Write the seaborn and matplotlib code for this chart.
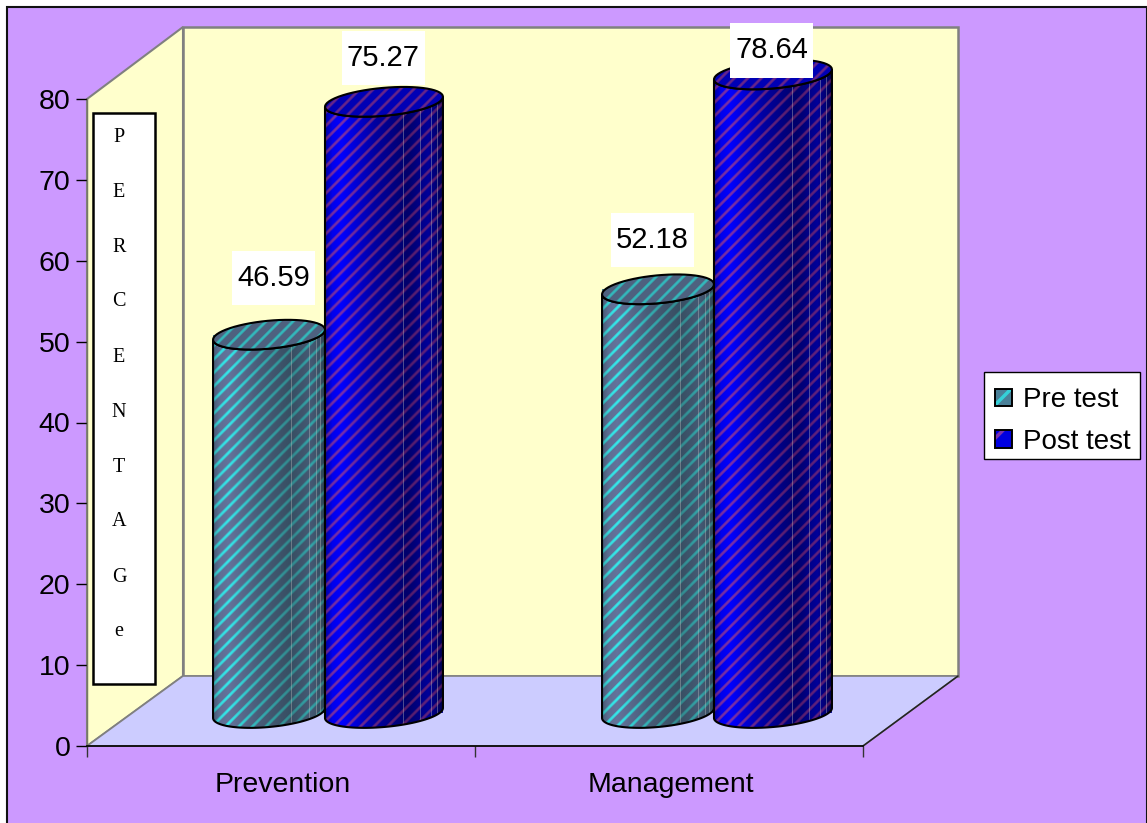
import numpy as np
import pandas as pd
import matplotlib
matplotlib.use("Agg")
import matplotlib.pyplot as plt
import seaborn as sns
from matplotlib.patches import Polygon, Rectangle, Patch
from matplotlib.path import Path
from matplotlib.legend_handler import HandlerTuple

# Chart values
categories = ["Prevention", "Management"]
series_names = ["Pre test", "Post test"]
pre_test = [46.59, 52.18]
post_test = [75.27, 78.64]
y_ticks = [0, 10, 20, 30, 40, 50, 60, 70, 80]
side_letters = ["P", "E", "R", "C", "E", "N", "T", "A", "G", "e"]

W, H = 1147, 823
sns.set_theme(style="white", rc={"text.color": "black", "xtick.color": "black",
                                 "ytick.color": "black", "hatch.linewidth": 2.5})
plt.rcParams["font.family"] = ["Liberation Sans", "DejaVu Sans"]

fig = plt.figure(figsize=(W / 100, H / 100), dpi=100, facecolor="white")


def fig_rect(left, top, right, bottom):
    return [left / W, 1 - bottom / H, (right - left) / W, (bottom - top) / H]


# Backdrop: chart area, walls and floor of the 3D box, in pixel units
bg = fig.add_axes([0, 0, 1, 1], zorder=0)
bg.set_xlim(0, W)
bg.set_ylim(H, 0)
bg.axis("off")
bg.add_patch(Rectangle((7, 7), 1139.5, 840, fc="#CC99FF", ec="#111111", lw=1.5))
bg.add_patch(Polygon([(183, 27), (958, 27), (958, 676), (183, 676)],
                     fc="#FFFFCC", ec="#808080", lw=1.8))
bg.add_patch(Polygon([(87, 99), (183, 27), (183, 676), (87, 746)],
                     fc="#FFFFCC", ec="#808080", lw=1.5))
bg.add_patch(Polygon([(87, 746), (183, 676), (958, 676), (863, 746)],
                     fc="#CCCCFF", ec="#808080", lw=1.2))
bg.plot([958, 863], [676, 746], color="#222222", lw=1.1)
bg.add_patch(Rectangle((984, 372), 156, 87, fc="white", ec="black", lw=1))

# Vertical caption box on the side wall
bg.add_patch(Rectangle((93, 113), 62, 571, fc="white", ec="black", lw=1.8))
for i, letter in enumerate(side_letters):
    bg.text(119, 137 + i * 55.0, letter, family="Liberation Serif", fontsize=14.5,
            color="black", ha="center", va="center")

# Front axes carrying the scale and the category names
ax = fig.add_axes(fig_rect(87, 99, 863, 746), zorder=1)
ax.patch.set_alpha(0)
ax.set_xlim(-0.5, 1.5)
ax.set_ylim(0, 80)
ax.set_yticks(y_ticks)
ax.set_xticks([-0.5, 0.5, 1.5])
ax.set_xticklabels([])
ax.set_xticks([0.005, 1.005], labels=categories, minor=True)
ax.tick_params(axis="y", length=8, width=1, pad=4, labelsize=20.5, left=True)
ax.tick_params(axis="x", which="major", length=8, width=1, bottom=True, color="#333333")
ax.tick_params(axis="x", which="minor", length=0, pad=19, labelsize=20.5)
sns.despine(ax=ax)
ax.spines["left"].set_color("#777766")
ax.spines["left"].set_linewidth(1)
ax.spines["bottom"].set_color("black")
ax.spines["bottom"].set_linewidth(1.2)

# Cylinder axes: sits deeper in the box, so its zero line is above the front one
PX_PER_UNIT = 8.12
BASE_Y = 713
GROUP_LEFT, GROUP_RIGHT = 133.5, 911.5
Y_MIN, Y_MAX = -3, 84
cyl = fig.add_axes(fig_rect(GROUP_LEFT, BASE_Y - Y_MAX * PX_PER_UNIT,
                            GROUP_RIGHT, BASE_Y - Y_MIN * PX_PER_UNIT), zorder=2)
cyl.patch.set_alpha(0)

table = pd.DataFrame({
    "category": categories * 2,
    "series": [series_names[0]] * 2 + [series_names[1]] * 2,
    "value": pre_test + post_test,
})
sns.barplot(data=table, x="category", y="value", hue="series", order=categories,
            hue_order=series_names, palette=["#3f8f9f", "#0000c0"], width=0.591,
            gap=0, legend=False, ax=cyl, linewidth=0)
cyl.axis("off")

PX_PER_X = (GROUP_RIGHT - GROUP_LEFT) / 2
ELLIPSE_B = 14 / PX_PER_UNIT
ELLIPSE_TILT = 5 / PX_PER_UNIT
OVERLAP = 3 / PX_PER_X

# colours: (stripe left, stripe right, ground left, ground right)
looks = [
    (np.array([50, 240, 240]), np.array([50, 115, 120]),
     np.array([100, 115, 155]), np.array([45, 70, 85])),
    (np.array([130, 50, 165]), np.array([80, 25, 90]),
     np.array([0, 0, 255]), np.array([0, 0, 70])),
]
highlights = [(0.71, 0.87, 0.93, 0.965), (0.67, 0.82, 0.91, 0.96)]
STRIPE_PERIOD = 13.5


def shade_profile(u):
    return np.interp(u, [0, 0.06, 0.14, 0.42, 0.7, 0.88, 0.95, 1],
                     [0.5, 0.9, 1.0, 0.5, 0.2, 0.45, 0.25, 0.05])


def texture(x0, w, y0, y1, look, lines=(), flat=None):
    nx = int(round(w * PX_PER_X))
    ny = int(round((y1 - y0) * PX_PER_UNIT))
    px, py = np.meshgrid(np.arange(nx), np.arange(ny))
    u = px / max(nx - 1, 1)
    phase = (px + x0 * PX_PER_X - py) / STRIPE_PERIOD
    stripe = np.clip((np.cos(2 * np.pi * phase) - 0.25) * 1.3, 0, 1)[..., None]
    s = shade_profile(u)[..., None] if flat is None else np.full((ny, nx, 1), flat)
    stripe_c = look[1] + (look[0] - look[1]) * s
    ground_c = look[3] + (look[2] - look[3]) * s
    rgb = ground_c * (1 - stripe) + stripe_c * stripe
    for frac in lines:
        col = int(frac * (nx - 1))
        rgb[:, col] = rgb[:, col] * 0.6 + np.array([190, 190, 190]) * 0.4
    return np.clip(rgb, 0, 255).astype(np.uint8)


def arc(cx, cy, a, t0, t1):
    t = np.linspace(t0, t1, 60)
    return np.column_stack([cx + a * np.cos(t),
                            cy + ELLIPSE_TILT * np.cos(t) + ELLIPSE_B * np.sin(t)])


for s_idx, container in enumerate(cyl.containers):
    for bar in container:
        x0, w, h = bar.get_x(), bar.get_width(), bar.get_height()
        # The rear series is drawn a touch wider and laps over its neighbour
        if s_idx == 0:
            w -= OVERLAP
        else:
            x0 -= OVERLAP
            w += OVERLAP
        cx, a = x0 + w / 2, w / 2
        pad = ELLIPSE_B + ELLIPSE_TILT
        extent = (x0, x0 + w, -pad, h + pad)

        body = np.vstack([arc(cx, 0, a, np.pi, 2 * np.pi),
                          arc(cx, h, a, 2 * np.pi, np.pi)])
        body_path = Path(np.vstack([body, body[:1]]), closed=True)
        img = cyl.imshow(texture(x0, w, -pad, h + pad, looks[s_idx], highlights[s_idx]),
                         extent=extent, origin="lower", aspect="auto",
                         interpolation="bilinear", zorder=3 + s_idx)
        img.set_clip_path(body_path, transform=cyl.transData)
        cyl.add_patch(Polygon(body, closed=True, fc="none", ec="black", lw=1.5,
                              zorder=3.2 + s_idx))

        lid = arc(cx, h, a, 0, 2 * np.pi)
        lid_path = Path(lid, closed=True)
        lid_img = cyl.imshow(texture(x0, w, h - pad, h + pad, looks[s_idx], flat=0.6),
                             extent=(x0, x0 + w, h - pad, h + pad), origin="lower",
                             aspect="auto", interpolation="bilinear", zorder=3.4 + s_idx)
        lid_img.set_clip_path(lid_path, transform=cyl.transData)
        cyl.add_patch(Polygon(lid, closed=True, fc="none", ec="black", lw=1.5,
                              zorder=3.6 + s_idx))

cyl.set_xlim(-0.5, 1.5)
cyl.set_ylim(Y_MIN, Y_MAX)


def label_box(x0, y0, width, height, mutation_size):
    dx, dy = 0.18 * mutation_size, 0.45 * mutation_size
    return Path([(x0 - dx, y0 - dy), (x0 + width + dx, y0 - dy),
                 (x0 + width + dx, y0 + height + dy), (x0 - dx, y0 + height + dy),
                 (x0 - dx, y0 - dy)], closed=True)


# Value labels on white plates, each nudged clear of its cylinder
label_nudges = [[(3, 57), (-7, 49)], [(-2, 44), (-3, 24)]]
for s_idx, container in enumerate(cyl.containers):
    for b_idx, bar in enumerate(container):
        cyl.annotate(f"{bar.get_height():.2f}",
                     xy=(bar.get_x() + bar.get_width() / 2, bar.get_height()),
                     xytext=label_nudges[s_idx][b_idx], textcoords="offset pixels",
                     ha="center", va="center", fontsize=21, color="black", zorder=10,
                     annotation_clip=False,
                     bbox=dict(boxstyle=label_box, fc="white", ec="none"))

# Legend swatches: striped fill with a separate black outline
handles = []
for hatch_col, face in zip(["#35d0d8", "#7a30b0"], ["#4a8098", "#0000e0"]):
    fill = Patch(facecolor=face, edgecolor=hatch_col, hatch="/", linewidth=0)
    edge = Patch(facecolor="none", edgecolor="black", linewidth=1.4)
    handles.append((fill, edge))
legend = fig.legend(handles, series_names, handler_map={tuple: HandlerTuple(ndivide=1, pad=0)},
                    loc="center", bbox_to_anchor=(1063 / W, 1 - 421 / H), fontsize=20,
                    frameon=False, handlelength=0.6, handleheight=0.6, handletextpad=0.4,
                    labelspacing=0.55, borderpad=0, borderaxespad=0)

fig.savefig("out.png", dpi=100, facecolor="white")
